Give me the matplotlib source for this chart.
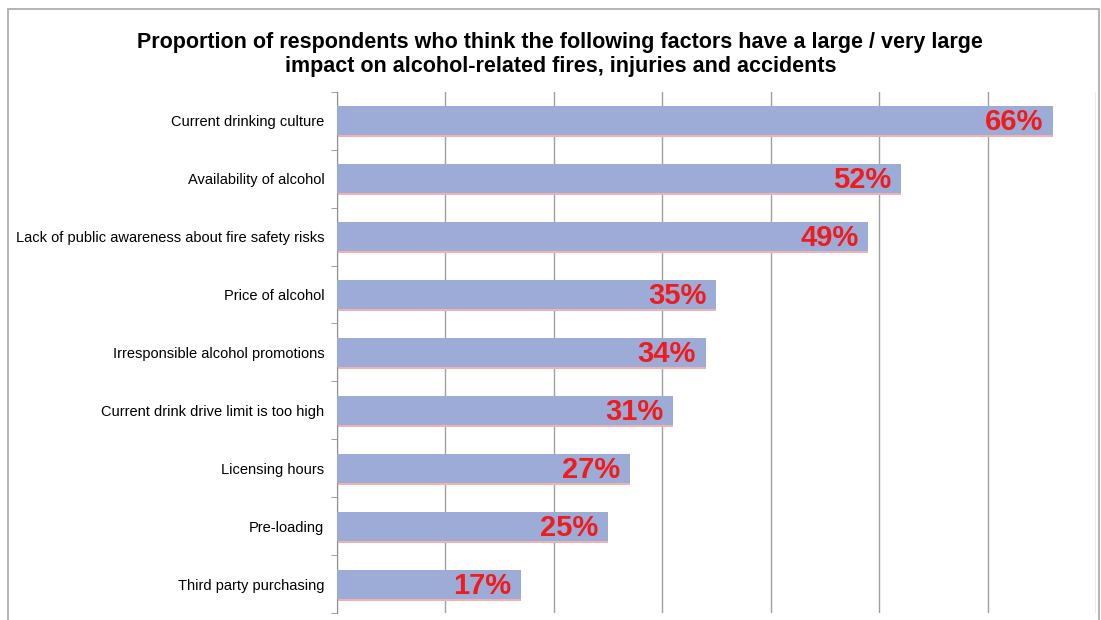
import matplotlib.pyplot as plt
from matplotlib.patches import Rectangle

plt.rcParams['font.family'] = ['Liberation Sans', 'DejaVu Sans']

# data (top to bottom as shown)
factors = ["Current drinking culture",
           "Availability of alcohol",
           "Lack of public awareness about fire safety risks",
           "Price of alcohol",
           "Irresponsible alcohol promotions",
           "Current drink drive limit is too high",
           "Licensing hours",
           "Pre-loading",
           "Third party purchasing"]
percent = [66, 52, 49, 35, 34, 31, 27, 25, 17]

fig = plt.figure(figsize=(11.01, 6.20), dpi=100)
ax = fig.add_axes([0.306, 0.0113, 0.6895, 0.8407])

# outer frame of the figure
fig.patches.append(Rectangle((0.007, -0.05), 0.991, 1.035, transform=fig.transFigure,
                             fill=False, edgecolor='#a8a8a8', linewidth=1.2))

y = list(range(len(factors)))
# faint red shadow line under each bar
ax.barh([i + 0.035 for i in y], percent, height=0.5, color='#f4b0b0', zorder=2)
ax.barh(y, percent, height=0.5, color='#9dabd7', zorder=3)

for i, p in zip(y, percent):
    ax.text(p - 0.9, i + 0.03, f"{p}%", ha='right', va='center', color='#ee1c1c',
            fontsize=21, fontweight='bold', zorder=4)

ax.set_xlim(0, 70)
ax.set_ylim(len(factors) - 0.5, -0.5)
ax.set_xticks(range(0, 71, 10))
ax.xaxis.grid(True, color='#a0a0a0', linewidth=1)
ax.set_axisbelow(True)
ax.tick_params(axis='x', length=0, labelbottom=False)

ax.set_yticks(y)
ax.set_yticklabels(factors, fontsize=10.5)
ax.set_yticks([i + 0.5 for i in range(-1, len(factors))], minor=True)
ax.tick_params(axis='y', which='major', length=0, pad=9)
ax.tick_params(axis='y', which='minor', length=4, color='#909090')

for s in ['top', 'right', 'bottom']:
    ax.spines[s].set_visible(False)
ax.spines['left'].set_color('#909090')

fig.text(0.509, 0.912, "Proportion of respondents who think the following factors have a large / very large\n"
         "impact on alcohol-related fires, injuries and accidents",
         ha='center', va='center', fontsize=15.5, fontweight='bold', linespacing=1.2)

fig.savefig("out.png", dpi=100)
